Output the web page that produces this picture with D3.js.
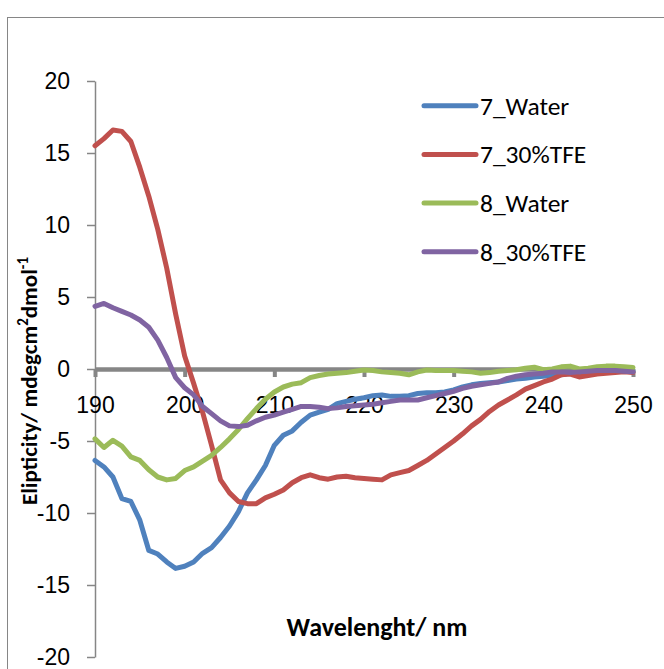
<!DOCTYPE html>
<html><head><meta charset="utf-8">
<script src="https://cdn.jsdelivr.net/npm/d3@7"></script>
<style>body{margin:0;background:#fff;} svg{display:block;font-family:Carlito,Lato,"Open Sans",sans-serif;}</style>
</head><body>
<svg id="chart" width="664" height="669"></svg>
<script>
const wavelength = d3.range(190, 251, 1);
const water7 = [-6.35,-6.8,-7.5,-9.0,-9.2,-10.5,-12.6,-12.85,-13.4,-13.85,-13.7,-13.4,-12.8,-12.4,-11.7,-10.9,-9.9,-8.6,-7.7,-6.7,-5.3,-4.6,-4.3,-3.7,-3.2,-3.0,-2.8,-2.4,-2.25,-2.1,-2.0,-1.85,-1.8,-1.9,-1.9,-1.85,-1.7,-1.65,-1.65,-1.6,-1.45,-1.25,-1.1,-1.0,-0.95,-0.9,-0.8,-0.7,-0.65,-0.55,-0.5,-0.45,-0.4,-0.3,-0.3,-0.25,-0.2,-0.2,-0.15,-0.15,-0.15];
const tfe7 = [15.5,16.0,16.6,16.5,15.8,14.0,12.0,9.7,7.0,3.8,0.9,-1.0,-3.0,-5.3,-7.7,-8.6,-9.2,-9.35,-9.35,-8.95,-8.7,-8.4,-7.9,-7.55,-7.35,-7.55,-7.65,-7.5,-7.45,-7.55,-7.6,-7.65,-7.7,-7.35,-7.2,-7.05,-6.7,-6.35,-5.9,-5.45,-5.0,-4.5,-3.95,-3.5,-2.95,-2.5,-2.15,-1.8,-1.4,-1.15,-0.9,-0.7,-0.4,-0.35,-0.55,-0.45,-0.35,-0.3,-0.25,-0.2,-0.25];
const water8 = [-4.85,-5.45,-4.95,-5.35,-6.1,-6.35,-7.0,-7.5,-7.7,-7.6,-7.05,-6.8,-6.4,-6.0,-5.45,-4.85,-4.2,-3.45,-2.75,-2.1,-1.6,-1.25,-1.05,-0.95,-0.6,-0.45,-0.35,-0.3,-0.25,-0.15,-0.07,-0.1,-0.2,-0.25,-0.3,-0.4,-0.2,-0.07,-0.1,-0.1,-0.1,-0.15,-0.2,-0.3,-0.25,-0.15,-0.1,-0.05,0.05,0.12,-0.05,0.0,0.15,0.2,0.0,0.05,0.15,0.2,0.2,0.15,0.1];
const tfe8 = [4.35,4.55,4.25,4.0,3.75,3.4,2.9,2.0,0.8,-0.6,-1.3,-1.8,-2.6,-3.1,-3.6,-3.95,-4.0,-3.9,-3.6,-3.35,-3.2,-3.0,-2.8,-2.6,-2.6,-2.65,-2.75,-2.7,-2.6,-2.55,-2.5,-2.45,-2.35,-2.25,-2.15,-2.15,-2.15,-2.0,-1.85,-1.7,-1.55,-1.35,-1.2,-1.1,-1.0,-0.9,-0.65,-0.5,-0.4,-0.35,-0.3,-0.2,-0.2,-0.25,-0.2,-0.15,-0.1,-0.1,-0.1,-0.15,-0.2];
const seriesNames = ["7_Water","7_30%TFE","8_Water","8_30%TFE"];
const seriesColors = ["#4F81BD","#C0504D","#9BBB59","#8064A2"];
const seriesValues = [water7, tfe7, water8, tfe8];
const xTicks = [190,200,210,220,230,240,250];
const yTicks = [-20,-15,-10,-5,0,5,10,15,20];

const svg = d3.select("#chart");
const grey = "#868686";
svg.append("rect").attr("x",7.5).attr("y",17.5).attr("width",700).attr("height",700)
  .attr("fill","#fff").attr("stroke",grey).attr("stroke-width",1);

const x = d3.scaleLinear().domain([190,250]).range([95,633]);
const y = d3.scaleLinear().domain([-20,20]).range([657,81]);
const fmt = d => String(d);

// Y axis
const yAxis = svg.append("g").attr("transform","translate(95,0)")
  .call(d3.axisLeft(y).tickValues(yTicks).tickFormat(fmt).tickSize(8).tickPadding(17).tickSizeOuter(0));
yAxis.select(".domain").attr("stroke",grey).attr("stroke-width",1.5);
yAxis.selectAll(".tick line").attr("stroke",grey).attr("stroke-width",1.5);
yAxis.selectAll(".tick text").attr("font-size",23).attr("fill","#000").attr("font-family",null);

// X axis at y=0
const xAxis = svg.append("g").attr("transform",`translate(0,${y(0)})`)
  .call(d3.axisBottom(x).tickValues(xTicks).tickFormat(fmt).tickSize(8).tickPadding(20).tickSizeOuter(0));
xAxis.select(".domain").attr("stroke",grey).attr("stroke-width",4.5);
xAxis.selectAll(".tick line").attr("stroke",grey).attr("stroke-width",4);
xAxis.selectAll(".tick text").attr("font-size",23).attr("fill","#000").attr("font-family",null);

// Lines
const line = d3.line().x((d,i)=>x(wavelength[i])).y(d=>y(d)).curve(d3.curveLinear);
seriesValues.forEach((vals,k)=>{
  svg.append("path").datum(vals).attr("d",line).attr("fill","none")
    .attr("stroke",seriesColors[k]).attr("stroke-width",5)
    .attr("stroke-linejoin","round").attr("stroke-linecap","round");
});

// Legend
const lg = svg.append("g");
seriesNames.forEach((n,k)=>{
  const cy = 105.7 + k*48.7;
  lg.append("line").attr("x1",424).attr("x2",476).attr("y1",cy).attr("y2",cy)
    .attr("stroke",seriesColors[k]).attr("stroke-width",5).attr("stroke-linecap","round");
  lg.append("text").attr("x",480).attr("y",cy+9).attr("font-size",25.5).text(n);
});

// Axis titles
svg.append("text").attr("x",377).attr("y",636).attr("text-anchor","middle")
  .attr("font-size",26).attr("font-weight","bold").text("Wavelenght/ nm");
const yt = svg.append("text").attr("transform","translate(37,381) rotate(-90)")
  .attr("text-anchor","middle").attr("font-size",23).attr("font-weight","bold");
yt.append("tspan").text("Elipticity/ mdegcm");
yt.append("tspan").attr("font-size",15).attr("baseline-shift","super").text("2");
yt.append("tspan").text("dmol");
yt.append("tspan").attr("font-size",15).attr("baseline-shift","super").text("-1");
</script>
</body></html>
